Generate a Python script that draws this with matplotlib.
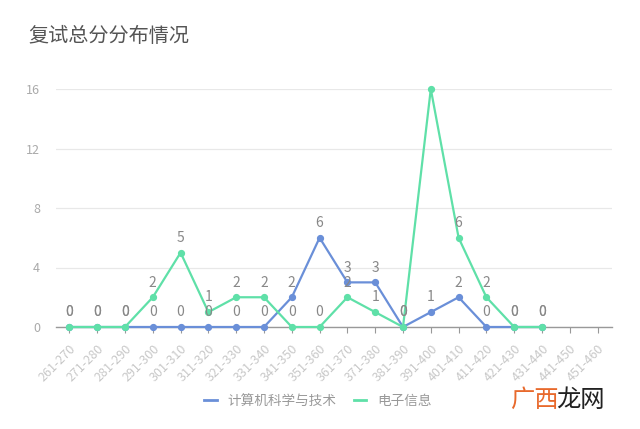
import matplotlib
matplotlib.use("Agg")
import matplotlib.pyplot as plt
import numpy as np

plt.rcParams['font.family'] = ['Noto Sans CJK SC', 'DejaVu Sans']

categories = ["261-270", "271-280", "281-290", "291-300", "301-310", "311-320",
              "321-330", "331-340", "341-350", "351-360", "361-370", "371-380",
              "381-390", "391-400", "401-410", "411-420", "421-430", "431-440",
              "441-450", "451-460"]
cs_values = [0, 0, 0, 0, 0, 0, 0, 0, 2, 6, 3, 3, 0, 1, 2, 0, 0, 0, None, None]
ee_values = [0, 0, 0, 2, 5, 1, 2, 2, 0, 0, 2, 1, 0, 16, 6, 2, 0, 0, None, None]
series_names = ["计算机科学与技术", "电子信息"]
title = "复试总分分布情况"
yticks = [0, 4, 8, 12, 16]

blue = "#6a8fd8"
green = "#5fe0a8"

fig = plt.figure(figsize=(6.4, 4.29), dpi=100)
ax = fig.add_axes([55.5 / 640, 1 - 327 / 429, 556 / 640, 238 / 429])

x = np.arange(len(categories))

def to_arr(v):
    return np.array([np.nan if a is None else a for a in v], dtype=float)

cs = to_arr(cs_values)
ee = to_arr(ee_values)

ax.plot(x, cs, color=blue, lw=1.6, marker='o', ms=4.2, zorder=3, label=series_names[0], clip_on=False)
ax.plot(x, ee, color=green, lw=1.6, marker='o', ms=4.2, zorder=4, label=series_names[1], clip_on=False)

for vals in (cs, ee):
    for xi, v in zip(x, vals):
        if np.isnan(v) or v >= 16:
            continue
        ax.annotate(f"{int(v)}", (xi, v), xytext=(0, 5.5), textcoords='offset points',
                    ha='center', va='bottom', fontsize=10, color='#888888', zorder=5)

ax.set_xlim(-0.5, len(categories) - 0.5)
ax.set_ylim(0, 16)
ax.set_yticks(yticks)
ax.set_xticks(x)
ax.set_xticklabels(categories, rotation=45, ha='right', rotation_mode='anchor',
                   fontsize=9, color='#c8c8c8')
ax.tick_params(axis='x', length=4, color='#999999', pad=7)
ax.tick_params(axis='y', length=0, pad=11, labelsize=9, labelcolor='#aaaaaa')
ax.grid(axis='y', color='#e8e8e8', lw=0.9)
ax.set_axisbelow(True)
for s in ('left', 'right', 'top'):
    ax.spines[s].set_visible(False)
ax.spines['bottom'].set_color('#999999')
ax.spines['bottom'].set_linewidth(1.0)
ax.spines['bottom'].set_zorder(2)

fig.text(28 / 640, 1 - 37 / 429, title, fontsize=14.5, color='#555555', va='center', ha='left')

leg = fig.legend(handles=ax.get_lines(), labels=series_names, loc='center',
                 bbox_to_anchor=(318 / 640, 1 - 401 / 429), ncol=2, frameon=False,
                 fontsize=9.8, handlelength=0.9, handletextpad=0.8, columnspacing=1.3,
                 labelcolor='#999999')
for h in leg.legend_handles:
    h.set_marker('')
    h.set_linewidth(2.0)

fig.text(510 / 640, 1 - 400 / 429, "广西", fontsize=17.5, color='#e8692c', va='center', ha='left')
fig.text(556 / 640, 1 - 400 / 429, "龙网", fontsize=17.5, color='#222222', va='center', ha='left')

fig.savefig("out.png", dpi=100)
